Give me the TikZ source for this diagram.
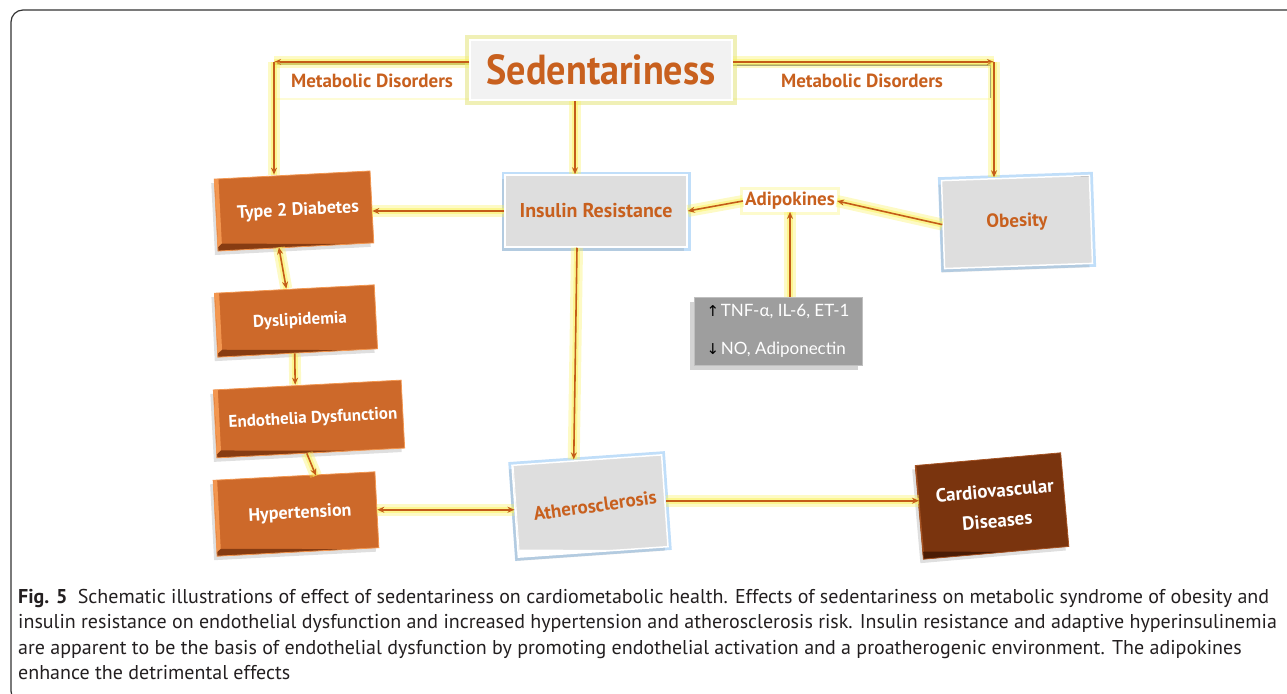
\documentclass[tikz,border=0pt]{standalone}
\usepackage{fontspec}
\setmainfont{PT Sans}
\newfontfamily\dejavu{DejaVu Sans}
\newfontfamily\lato{Lato}
\usetikzlibrary{arrows.meta,shadows,calc}
\definecolor{txo}{RGB}{200,96,30}
\definecolor{arr}{RGB}{196,92,24}
\definecolor{glowy}{RGB}{250,242,90}
\definecolor{glowo}{RGB}{225,225,110}
\definecolor{boxo}{RGB}{205,105,42}
\definecolor{boxol}{RGB}{242,150,80}
\definecolor{boxod}{RGB}{135,60,18}
\definecolor{cvdc}{RGB}{122,52,14}
\definecolor{cvdl}{RGB}{165,82,34}
\definecolor{cvdd}{RGB}{75,28,5}
\definecolor{gface}{RGB}{222,222,222}
\definecolor{bglow}{RGB}{150,200,245}
\definecolor{tnfc}{RGB}{158,158,158}
\definecolor{capc}{RGB}{35,31,32}
\definecolor{framec}{RGB}{50,50,50}
\tikzset{
  conn/.style={draw=arr, line width=1.6pt, -{Stealth[length=7pt,width=6pt]},
    preaction={draw=glowy, line width=12pt, opacity=0.35, -},
    preaction={draw=glowy, line width=6pt, opacity=0.5, -}},
  conntwo/.style={conn, {Stealth[length=7pt,width=6pt]}-{Stealth[length=7pt,width=6pt]}},
  bevel/.style 2 args={path picture={
    \fill[#1] (path picture bounding box.north west) rectangle ([xshift=8pt]path picture bounding box.south west);
    \fill[#2] (path picture bounding box.south west) -- ([xshift=8pt,yshift=7pt]path picture bounding box.south west)
       -- ([yshift=7pt]path picture bounding box.south east) -- (path picture bounding box.south east) -- cycle;}},
  obox/.style={fill=boxo, draw=boxol, line width=0.8pt, text=white, bevel={boxol}{boxod},
    drop shadow={opacity=0.25, shadow xshift=-3pt, shadow yshift=-4pt}, inner sep=0pt},
  topline/.style={path picture={
    \draw[black!75, line width=2pt] (path picture bounding box.north west) -- (path picture bounding box.north east);}},
  gbox/.style={fill=gface, draw=white, line width=1.5pt, text=txo,
    preaction={draw=bglow, line width=7pt, opacity=0.6},
    drop shadow={opacity=0.2, shadow xshift=-3pt, shadow yshift=-4pt}},
  banner/.style={fill=white, text=txo, inner sep=0pt,
    preaction={draw=glowy, line width=4pt, opacity=0.25}},
  capline/.style={anchor=base west, inner sep=0pt, text=capc, font=\fontsize{20}{24}\selectfont},
}
\begin{document}
\begin{tikzpicture}[x=1pt,y=-1pt]
\useasboundingbox (0,0) rectangle (1287,693);
\begin{scope}
\clip (0,0) rectangle (1287,693);
\draw[framec, line width=1.2pt, rounded corners=12pt] (11,10) rectangle (1320,703);
\end{scope}

% banners
\node[banner, minimum width=195pt, minimum height=34pt,
  path picture={\draw[gray, line width=2.5pt] (path picture bounding box.north west) -- (path picture bounding box.north east);}]
  (mdl) at (372,81) {\fontsize{19}{22}\selectfont\bfseries Metabolic Disorders};
\node[banner, minimum width=258pt, minimum height=33pt,
  path picture={\draw[gray, line width=2.5pt] (path picture bounding box.north west) -- (path picture bounding box.north east) -- (path picture bounding box.south east);}]
  (mdr) at (862,81) {\fontsize{19}{22}\selectfont\bfseries Metabolic Disorders};

% Sedentariness
\node[fill=black!5, draw=white, line width=1.5pt, minimum width=262pt, minimum height=60pt,
  preaction={draw=glowo, line width=10pt, opacity=0.5},
  path picture={\draw[gray, line width=3pt] (path picture bounding box.south west) -- (path picture bounding box.south east);},
  text=txo] (sed) at (601,70) {\fontsize{42}{48}\selectfont\bfseries\scalebox{0.91}[1]{Sedentariness}};

% orange boxes
\node[obox, rotate=3, minimum width=156pt, minimum height=72pt] (t2d) at (294,211)
  {\hspace{8pt}\fontsize{18}{21}\selectfont\bfseries Type 2 Diabetes};
\node[obox, rotate=3, minimum width=160pt, minimum height=64pt] (dys) at (296,321)
  {\hspace{8pt}\fontsize{17}{21}\selectfont\bfseries Dyslipidemia};
\node[obox, rotate=3, minimum width=188pt, minimum height=68pt] (endo) at (309,419)
  {\hspace{8pt}\fontsize{17}{21}\selectfont\bfseries Endothelia Dysfunction};
\node[obox, rotate=3, minimum width=162pt, minimum height=76pt] (hyp) at (296,514)
  {\hspace{8pt}\fontsize{18}{21}\selectfont\bfseries Hypertension};
\node[obox, fill=cvdc, draw=cvdl, bevel={cvdl}{cvdd}, rotate=5, minimum width=146pt, minimum height=94pt,
  align=center, font=\fontsize{19}{30}\selectfont\bfseries] (cvd) at (992,506)
  {\hspace{8pt}Cardiovascular\\\hspace{8pt}Diseases};

% gray boxes
\node[gbox, topline, minimum width=182pt, minimum height=72pt] (ir) at (596,211)
  {\fontsize{20}{24}\selectfont\bfseries Insulin Resistance};
\node[gbox, topline, rotate=2, minimum width=148pt, minimum height=88pt] (ob) at (1017,222)
  {\fontsize{19}{23}\selectfont\bfseries Obesity};
\node[gbox, rotate=4, minimum width=150pt, minimum height=92pt, bevel={white}{white}] (ath) at (590,506)
  {\hspace{10pt}\fontsize{19}{22}\selectfont\bfseries\rotatebox{4}{Atherosclerosis}};

% adipokines
\node[fill=white, text=txo, inner sep=2pt, preaction={draw=glowy, line width=6pt, opacity=0.3}] (adip) at (790,201)
  {\fontsize{19}{22}\selectfont\bfseries Adipokines};

% TNF box
\node[fill=tnfc, draw=black!25, line width=1pt, text=white, align=left, minimum width=168pt, minimum height=68pt,
  drop shadow={opacity=0.35, shadow xshift=-4pt, shadow yshift=-5pt}] (tnf) at (778,331)
  {{\dejavu\color{black}\fontsize{15}{16}\selectfont↑}\,{\lato\fontsize{17}{20}\selectfont TNF-α, IL-6, ET-1}\\[22pt]
   {\dejavu\color{black}\fontsize{15}{16}\selectfont↓}\,{\lato\fontsize{17}{20}\selectfont NO, Adiponectin}};

% connectors
\coordinate (cl) at (274,62);
\coordinate (cr) at (994,62);
\draw[conn] (sed.west |- cl) -- (cl);
\draw[conn] (cl) -- (cl |- t2d.north);
\draw[conn] (sed.east |- cr) -- (cr);
\draw[conn] (cr) -- (cr |- ob.north);
\draw[conn] ([xshift=-26pt]sed.south) -- ([xshift=-21pt]ir.north);
\draw[conn] (ir.west) -- (ir.west -| t2d.east);
\draw[conn] (adip.west) -- (ir.east);
\draw[conn] (ob.west) -- (adip.east);
\draw[conn] (tnf.north -| adip.south) -- (adip.south);
\draw[conntwo] ([xshift=-17pt]t2d.south) -- ([xshift=-8pt]dys.north);
\draw[conn] ([xshift=-3pt]dys.south) -- ([xshift=-12pt]endo.north);
\draw[conn] ([xshift=-4pt]endo.south) -- ([xshift=22pt]hyp.north);
\draw[conntwo] (hyp.east) -- (hyp.east -| ath.west);
\draw[conn] ([xshift=-19pt]ir.south) -- ([xshift=-13pt]ath.north);
\draw[conn] (ath.east) -- (ath.east -| cvd.west);

% caption
\node[capline] (c1) at (18,603) {\textbf{Fig. 5}\hspace{5pt} Schematic illustrations of effect of sedentariness on cardiometabolic health. Effects of sedentariness on metabolic syndrome of obesity and};
\node[capline] (c2) at (18,628.5) {insulin resistance on endothelial dysfunction and increased hypertension and atherosclerosis risk. Insulin resistance and adaptive hyperinsulinemia};
\node[capline] (c3) at (18,654) {are apparent to be the basis of endothelial dysfunction by promoting endothelial activation and a proatherogenic environment. The adipokines};
\node[capline] (c4) at (18,679.5) {enhance the detrimental effects};
\end{tikzpicture}
\end{document}
